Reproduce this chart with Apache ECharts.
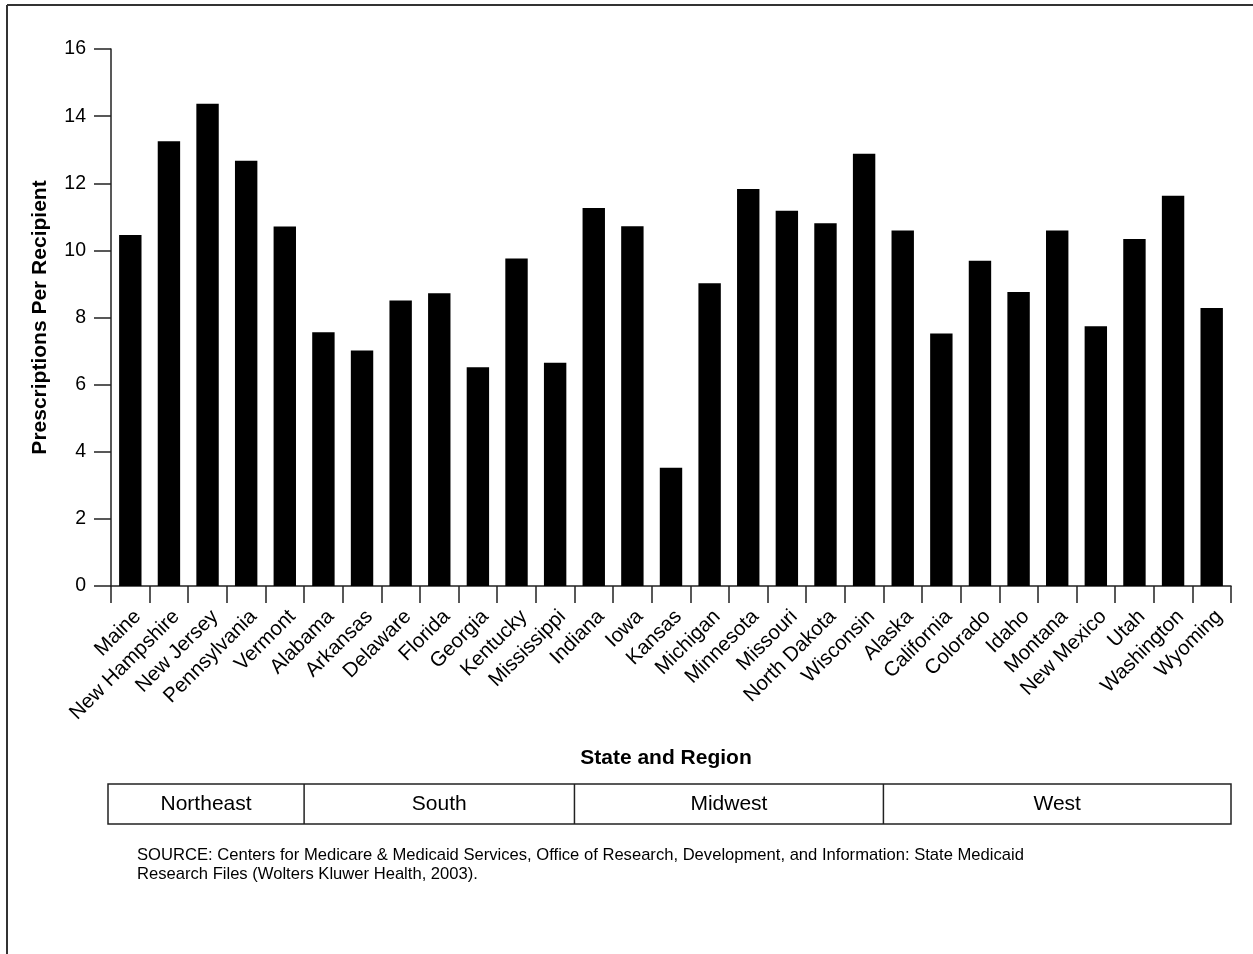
<!DOCTYPE html>
<html>
<head>
<meta charset="utf-8">
<script src="https://cdn.jsdelivr.net/npm/echarts@6/dist/echarts.min.js"></script>
<style>
html,body{margin:0;padding:0;background:#fff;}
#chart{width:1253px;height:954px;}
</style>
</head>
<body>
<div id="chart"></div>
<script>
const states = ['Maine','New Hampshire','New Jersey','Pennsylvania','Vermont',
  'Alabama','Arkansas','Delaware','Florida','Georgia','Kentucky','Mississippi',
  'Indiana','Iowa','Kansas','Michigan','Minnesota','Missouri','North Dakota','Wisconsin',
  'Alaska','California','Colorado','Idaho','Montana','New Mexico','Utah','Washington','Wyoming'];
const values = [10.46,13.25,14.37,12.67,10.71,
  7.56,7.02,8.51,8.72,6.52,9.76,6.65,
  11.26,10.72,3.52,9.02,11.83,11.18,10.81,12.88,
  10.59,7.52,9.69,8.76,10.59,7.74,10.34,11.63,8.28];
const regions = ['Northeast','South','Midwest','West'];
const regionCounts = [5,7,8,9];
const yTicks = {min:0, max:16, interval:2};
const yTitle = 'Prescriptions Per Recipient';
const xTitle = 'State and Region';
const sourceLines = ['SOURCE: Centers for Medicare & Medicaid Services, Office of Research, Development, and Information: State Medicaid',
  'Research Files (Wolters Kluwer Health, 2003).'];

const FONT = 'Liberation Sans, Arial, Helvetica, sans-serif';
const LINE = '#222';
const chart = echarts.init(document.getElementById('chart'), null, {renderer:'canvas'});

const option = {
  animation:false,
  backgroundColor:'#fff',
  grid:{left:111, right:22, top:49, bottom:368, containLabel:false},
  xAxis:{
    type:'category', data:states,
    name:xTitle, nameLocation:'middle', nameGap:162,
    nameTextStyle:{fontFamily:FONT, fontSize:21, fontWeight:'bold', color:'#000', padding:[0,10,0,0]},
    axisLine:{show:true, lineStyle:{color:LINE, width:1.5}},
    axisTick:{show:true, length:17, interval:0, alignWithLabel:false, lineStyle:{color:LINE, width:1.5}},
    axisLabel:{interval:0, rotate:45, margin:20, verticalAlign:'top', fontFamily:FONT, fontSize:20.5, color:'#000'},
    splitLine:{show:false}
  },
  yAxis:{
    type:'value', min:yTicks.min, max:yTicks.max, interval:yTicks.interval,
    name:yTitle, nameLocation:'middle', nameGap:60,
    nameTextStyle:{fontFamily:FONT, fontSize:21, fontWeight:'bold', color:'#000'},
    axisLine:{show:true, lineStyle:{color:LINE, width:1.5}},
    axisTick:{show:true, length:17, lineStyle:{color:LINE, width:1.5}},
    axisLabel:{margin:25, fontFamily:FONT, fontSize:19.5, color:'#000'},
    splitLine:{show:false}
  },
  series:[{
    type:'bar', data:values, barCategoryGap:'42%',
    itemStyle:{color:'#000'}
  }]
};
chart.setOption(option);

// Region table derived from the category axis
const c0 = chart.convertToPixel({xAxisIndex:0}, 0);
const c1 = chart.convertToPixel({xAxisIndex:0}, 1);
const band = c1 - c0;
const boundary = i => c0 - band/2 + i*band;
const tableTop = 784, tableH = 40;
const els = [];
const left = boundary(0) - 3;
const right = boundary(states.length);
els.push({type:'rect', shape:{x:left, y:tableTop, width:right-left, height:tableH},
  style:{fill:'none', stroke:LINE, lineWidth:1.5}});
let start = 0;
regions.forEach((r, k) => {
  const end = start + regionCounts[k];
  const xa = k === 0 ? left : boundary(start);
  const xb = boundary(end);
  if (k > 0) {
    els.push({type:'line', shape:{x1:xa, y1:tableTop, x2:xa, y2:tableTop+tableH},
      style:{stroke:LINE, lineWidth:1.5}});
  }
  els.push({type:'text', x:(xa+xb)/2, y:tableTop+tableH/2,
    style:{text:r, fontFamily:FONT, fontSize:21, fill:'#000', align:'center', verticalAlign:'middle'}});
  start = end;
});
// Frame lines
els.push({type:'line', shape:{x1:7, y1:5, x2:1253, y2:5}, style:{stroke:'#333', lineWidth:2}});
els.push({type:'line', shape:{x1:7, y1:5, x2:7, y2:954}, style:{stroke:'#333', lineWidth:2}});
// Source
sourceLines.forEach((t, i) => {
  els.push({type:'text', x:137, y:855 + i*19,
    style:{text:t, fontFamily:FONT, fontSize:16.6, fill:'#000', align:'left', verticalAlign:'middle'}});
});
chart.setOption({graphic:{elements:els}});
</script>
</body>
</html>
